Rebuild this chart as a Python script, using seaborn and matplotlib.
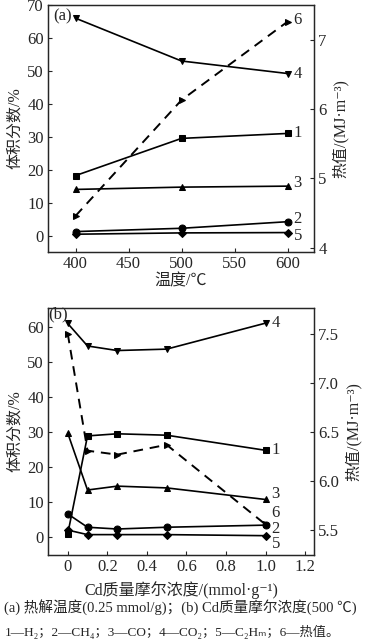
import matplotlib
matplotlib.use('Agg')
import matplotlib.pyplot as plt
import matplotlib.ticker as mticker
import seaborn as sns

# ---- (a) pyrolysis temperature, 0.25 mmol/g ----
temps = [400, 500, 600]
h2_a = [18.2, 29.5, 31.0]
ch4_a = [1.2, 2.2, 4.2]
co_a = [14.0, 14.7, 15.0]
co2_a = [66.0, 53.0, 49.2]
c2hm_a = [0.4, 0.8, 0.9]
heat_a = [4.46, 6.13, 7.26]

# ---- (b) Cd molality, 500 C ----
cd = [0, 0.1, 0.25, 0.5, 1.0]
h2_b = [1.0, 28.9, 29.5, 29.1, 24.8]
ch4_b = [6.7, 2.9, 2.4, 2.9, 3.5]
co_b = [29.7, 13.5, 14.6, 14.1, 10.8]
co2_b = [60.9, 54.5, 53.2, 53.6, 61.0]
c2hm_b = [2.1, 0.8, 0.8, 0.8, 0.5]
heat_b = [7.5, 6.31, 6.27, 6.37, 5.56]

sns.set_style('ticks')
plt.rcParams['font.family'] = ['Liberation Serif', 'Noto Sans CJK SC', 'DejaVu Sans']
plt.rcParams['axes.linewidth'] = 0.9

FS = 12       # tick numbers
LFS = 11.5    # axis titles
fig = plt.figure(figsize=(3.66, 6.44), dpi=100)
ax_a = fig.add_axes([0.131, 0.6087, 0.727, 0.3835])
ax_b = fig.add_axes([0.131, 0.1382, 0.727, 0.3835])


def draw_panel(ax, x, gases, heat, label_offsets, heat_offset):
    markers = ['s', 'o', '^', 'v', 'D']
    sizes = [4.5, 5, 5, 5, 4]
    for i, y in enumerate(gases):
        sns.lineplot(x=x, y=y, ax=ax, color='black', marker=markers[i],
                     markersize=sizes[i], markeredgecolor='black', linewidth=1.2)
        ax.annotate(str(i + 1), (x[-1], y[-1]), xytext=label_offsets[i],
                    textcoords='offset pixels', fontsize=FS, va='center', ha='left')
    ax2 = ax.twinx()
    sns.lineplot(x=x, y=heat, ax=ax2, color='black', marker='>', markersize=5,
                 markeredgecolor='black', linewidth=1.4, linestyle=(0, (5, 3.5)))
    ax2.annotate('6', (x[-1], heat[-1]), xytext=heat_offset,
                 textcoords='offset pixels', fontsize=FS, va='center', ha='left')
    for a in (ax, ax2):
        a.tick_params(direction='in', length=3, width=0.8, labelsize=FS, pad=3)
    ax.set_ylabel('体积分数/%', fontsize=LFS, labelpad=3)
    ax2.set_ylabel('热值/(MJ·m⁻³)', fontsize=LFS, labelpad=4)
    return ax2


ax2_a = draw_panel(ax_a, temps, [h2_a, ch4_a, co_a, co2_a, c2hm_a], heat_a,
                   [(6, 0), (6, 3), (6, 3), (6, 0), (6, -3)], (6, 2))
ax_a.set_xlim(374, 625)
ax_a.set_ylim(-5, 70)
ax2_a.set_ylim(3.94, 7.5)
ax_a.set_xticks([400, 450, 500, 550, 600])
ax_a.set_yticks(range(0, 71, 10))
ax2_a.set_yticks([4, 5, 6, 7])
ax_a.set_xlabel('温度/℃', fontsize=LFS, labelpad=1)
ax_a.text(0.02, 0.955, '(a)', transform=ax_a.transAxes, fontsize=FS, va='center')

ax2_b = draw_panel(ax_b, cd, [h2_b, ch4_b, co_b, co2_b, c2hm_b], heat_b,
                   [(6, 0), (6, -4), (6, 5), (6, 0), (6, -8)], (6, 11))
ax_b.set_xlim(-0.1, 1.245)
ax_b.set_ylim(-5, 65.3)
ax2_b.set_ylim(5.25, 7.76)
ax_b.set_xticks([0, 0.2, 0.4, 0.6, 0.8, 1.0, 1.2])
ax_b.xaxis.set_major_formatter(mticker.FuncFormatter(lambda v, p: '0' if abs(v) < 1e-9 else f'{v:.1f}'))
ax_b.set_yticks(range(0, 61, 10))
ax2_b.set_yticks([5.5, 6.0, 6.5, 7.0, 7.5])
ax2_b.yaxis.set_major_formatter(mticker.FormatStrFormatter('%.1f'))
ax_b.set_xlabel('Cd质量摩尔浓度/(mmol·g⁻¹)', fontsize=LFS, labelpad=4)
ax_b.text(0.0, 0.975, '(b)', transform=ax_b.transAxes, fontsize=FS, va='center')

fig.text(0.012, 0.0575, '(a) 热解温度(0.25 mmol/g)；(b) Cd质量摩尔浓度(500 ℃)',
         fontsize=10.5, va='center', ha='left')
fig.text(0.012, 0.019, '1—H₂；2—CH₄；3—CO；4—CO₂；5—C₂Hₘ；6—热值。',
         fontsize=9.5, va='center', ha='left')

fig.savefig('out.png', dpi=100, facecolor='white')
